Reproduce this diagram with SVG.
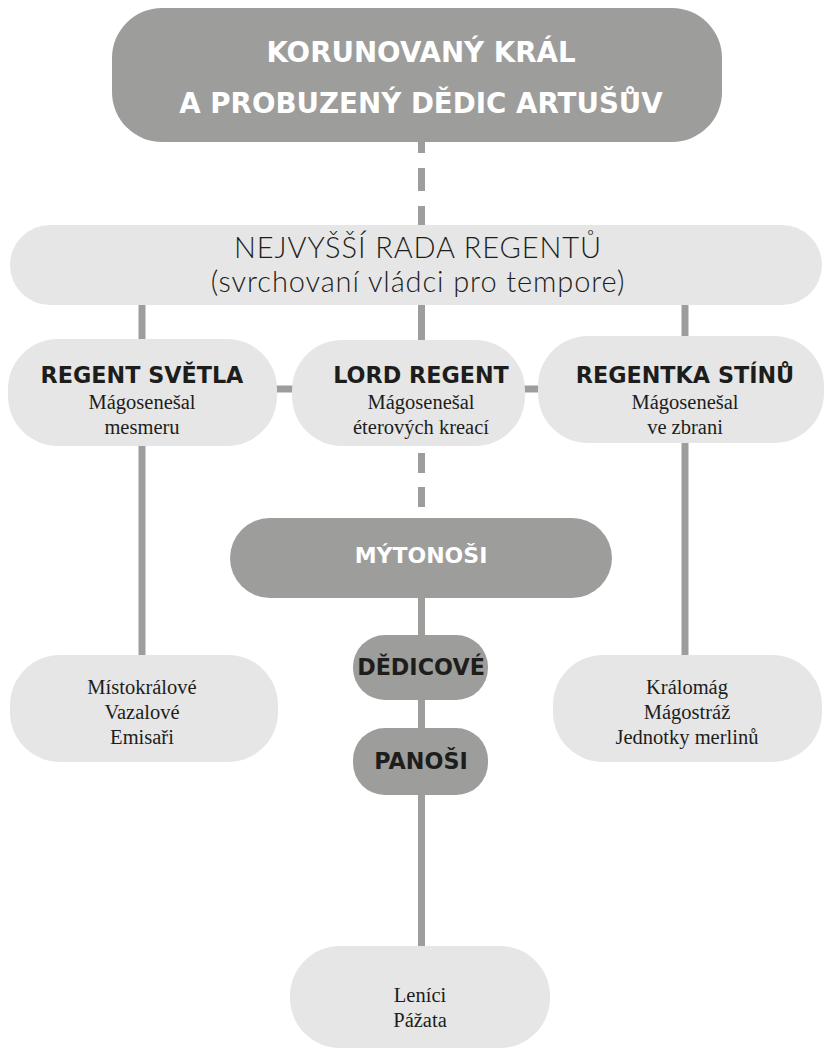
<svg xmlns="http://www.w3.org/2000/svg" width="831" height="1050" viewBox="0 0 831 1050">
<style>
.dark{fill:#9d9d9c}
.light{fill:#e6e6e6}
.con{stroke:#9d9d9c;stroke-width:7;fill:none}
.hw{font-family:"DejaVu Sans","Noto Sans",sans-serif;font-weight:700;fill:#ffffff;text-anchor:middle}
.hb{font-family:"DejaVu Sans","Noto Sans",sans-serif;font-weight:700;fill:#1d1d1b;text-anchor:middle;font-size:22.3px}
.lt{font-family:Lato,"Noto Sans",sans-serif;font-weight:300;fill:#1d1d1b;text-anchor:middle;font-size:29px;letter-spacing:0.9px}
.sr{font-family:"Liberation Serif","Times New Roman",serif;fill:#1d1d1b;text-anchor:middle;font-size:20.5px}
</style>
<rect width="831" height="1050" fill="#ffffff"/>
<g id="connectors">
<line class="con" x1="421.5" y1="130" x2="421.5" y2="230" stroke-dasharray="23 15"/>
<line class="con" x1="142" y1="300" x2="142" y2="345"/>
<line class="con" x1="421.5" y1="300" x2="421.5" y2="345"/>
<line class="con" x1="685" y1="300" x2="685" y2="345"/>
<line class="con" x1="270" y1="389" x2="300" y2="389"/>
<line class="con" x1="518" y1="389" x2="545" y2="389"/>
<line class="con" x1="421.5" y1="453" x2="421.5" y2="508" stroke-dasharray="20 14"/>
<line class="con" x1="142" y1="440" x2="142" y2="660"/>
<line class="con" x1="685" y1="440" x2="685" y2="660"/>
<line class="con" x1="421.5" y1="590" x2="421.5" y2="950"/>
</g>
<g id="kral">
<rect class="dark" x="112" y="8" width="610" height="134" rx="50"/>
<text class="hw" x="421" y="62" font-size="27.7">KORUNOVANÝ KRÁL</text>
<text class="hw" x="421" y="113" font-size="27.7">A PROBUZENÝ DĚDIC ARTUŠŮV</text>
</g>
<g id="rada">
<rect class="light" x="10" y="225" width="812" height="80" rx="40"/>
<text class="lt" x="418" y="258">NEJVYŠŠÍ RADA REGENTŮ</text>
<text class="lt" x="418" y="292">(svrchovaní vládci pro tempore)</text>
</g>
<g id="regent-svetla">
<rect class="light" x="8" y="339" width="269" height="107" rx="50"/>
<text class="hb" x="142" y="383">REGENT SVĚTLA</text>
<text class="sr" x="142" y="409">Mágosenešal</text>
<text class="sr" x="142" y="434">mesmeru</text>
</g>
<g id="lord-regent">
<rect class="light" x="292" y="340" width="233" height="106" rx="50"/>
<text class="hb" x="421" y="383">LORD REGENT</text>
<text class="sr" x="421" y="409">Mágosenešal</text>
<text class="sr" x="421" y="434">éterových kreací</text>
</g>
<g id="regentka-stinu">
<rect class="light" x="538" y="336" width="286" height="107" rx="50"/>
<text class="hb" x="685" y="383">REGENTKA STÍNŮ</text>
<text class="sr" x="685" y="409">Mágosenešal</text>
<text class="sr" x="685" y="434">ve zbrani</text>
</g>
<g id="mytonosi">
<rect class="dark" x="230" y="518" width="382" height="80" rx="40"/>
<text class="hw" x="421" y="563" font-size="22">MÝTONOŠI</text>
</g>
<g id="mistokralove">
<rect class="light" x="10" y="655" width="268" height="107" rx="50"/>
<text class="sr" x="142" y="694">Místokrálové</text>
<text class="sr" x="142" y="719">Vazalové</text>
<text class="sr" x="142" y="744">Emisaři</text>
</g>
<g id="kralomag">
<rect class="light" x="553" y="655" width="269" height="107" rx="50"/>
<text class="sr" x="687" y="694">Králomág</text>
<text class="sr" x="687" y="719">Mágostráž</text>
<text class="sr" x="687" y="744">Jednotky merlinů</text>
</g>
<g id="dedicove">
<rect class="dark" x="353" y="635" width="135" height="65" rx="32"/>
<text class="hb" x="421" y="675" font-size="22">DĚDICOVÉ</text>
</g>
<g id="panosi">
<rect class="dark" x="353" y="728" width="135" height="67" rx="32"/>
<text class="hb" x="421" y="769" font-size="22">PANOŠI</text>
</g>
<g id="lenici">
<rect class="light" x="290" y="946" width="260" height="102" rx="50"/>
<text class="sr" x="420" y="1002">Leníci</text>
<text class="sr" x="420" y="1027">Pážata</text>
</g>
</svg>
